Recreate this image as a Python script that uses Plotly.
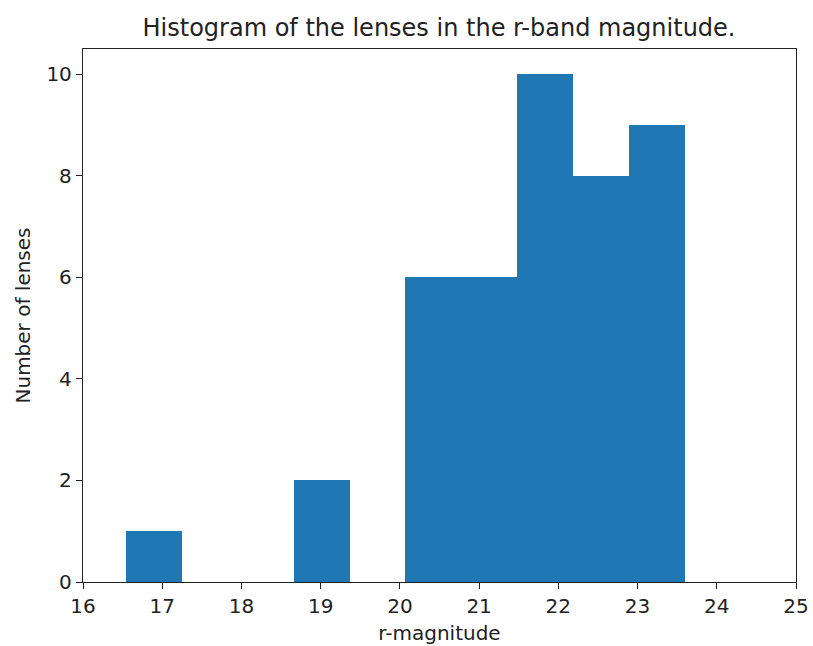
import plotly.graph_objects as go

# Histogram data (bin edges and counts)
bin_edges = [16.54, 17.246, 17.952, 18.658, 19.364, 20.07, 20.776, 21.482, 22.188, 22.894, 23.60]
counts = [1, 0, 0, 2, 0, 6, 6, 10, 8, 9]
x_ticks = [16, 17, 18, 19, 20, 21, 22, 23, 24, 25]
y_ticks = [0, 2, 4, 6, 8, 10]

centers = [(a + b) / 2 for a, b in zip(bin_edges[:-1], bin_edges[1:])]
widths = [b - a for a, b in zip(bin_edges[:-1], bin_edges[1:])]

fig = go.Figure(go.Bar(
    x=centers, y=counts, width=widths,
    marker=dict(color="#1f77b4", line=dict(width=0)),
))

font = "DejaVu Sans, sans-serif"
fig.update_layout(
    width=813, height=646,
    margin=dict(l=83, r=17, t=49, b=64, autoexpand=False),
    paper_bgcolor="white", plot_bgcolor="white",
    bargap=0, showlegend=False,
    font=dict(family=font, size=20, color="#222222"),
    title=dict(text="Histogram of the lenses in the r-band magnitude.",
               x=0.54, xanchor="center", y=0.957, yanchor="middle",
               font=dict(family=font, size=24, color="#222222")),
    xaxis=dict(range=[16, 25], tickvals=x_ticks, ticks="outside", ticklen=6,
               tickwidth=1.3, tickcolor="#222222", showgrid=False, zeroline=False,
               showline=True, linecolor="#222222", linewidth=1.3, mirror=True,
               automargin=False,
               title=dict(text="r-magnitude", standoff=8, font=dict(size=20)),
               tickfont=dict(size=20)),
    yaxis=dict(range=[0, 10.5], tickvals=y_ticks, ticks="outside", ticklen=6,
               tickwidth=1.3, tickcolor="#222222", showgrid=False, zeroline=False,
               showline=True, linecolor="#222222", linewidth=1.3, mirror=True,
               automargin=False,
               title=dict(text="Number of lenses", standoff=10, font=dict(size=20)),
               tickfont=dict(size=20)),
)

fig.write_html("out.html")
